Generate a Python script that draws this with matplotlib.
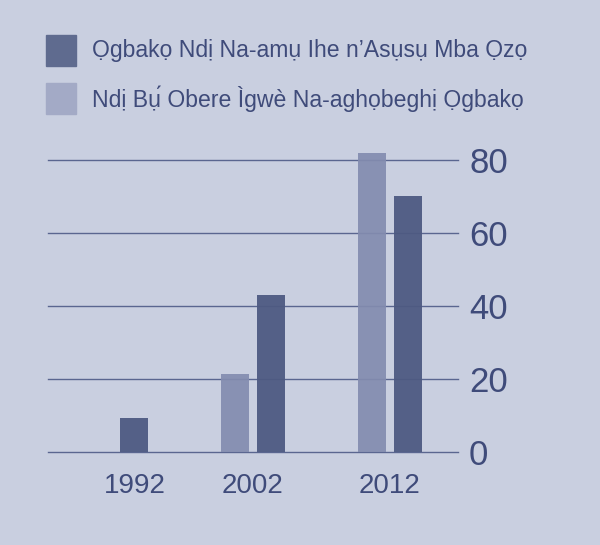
import matplotlib.pyplot as plt
import numpy as np

# data
years = ["1992", "2002", "2012"]
learners_foreign = [9.3, 43.0, 70.1]     # dark series
minority_orgs = [0, 21.4, 82.0]           # light series
series_names = [
    "Ọgbakọ Ndị Na-amụ Ihe n’Asụsụ Mba Ọzọ",
    "Ndị Bụ́ Obere Ìgwè Na-aghọbeghị Ọgbakọ",
]
yticks = [0, 20, 40, 60, 80]

bg = "#c9cfe0"
dark = "#4e5a82"
light = "#838caf"
txt = "#3f4b7a"

plt.rcParams["font.family"] = ["Liberation Sans", "DejaVu Sans"]

fig = plt.figure(figsize=(6, 5.45), dpi=100, facecolor=bg)
ax = fig.add_axes([0.08, 0.1706, 0.6833, 0.5694], facecolor=bg)

x = np.arange(len(years))
w = 0.206
off = 0.132

ax.bar(x - off, minority_orgs, w, color=light, alpha=0.92, zorder=3)
ax.bar(x + off, learners_foreign, w, color=dark, alpha=0.95, zorder=3)

# label under the bars that actually have data
tick_pos = []
for i in range(len(years)):
    pos = []
    if minority_orgs[i] > 0:
        pos.append(x[i] - off)
    if learners_foreign[i] > 0:
        pos.append(x[i] + off)
    tick_pos.append(np.mean(pos))
ax.set_xticks(tick_pos)
ax.set_xticklabels(years, fontsize=20, color=txt)

ax.set_xlim(-0.5, 2.5)
ax.set_ylim(0, 85)
ax.set_yticks(yticks)
ax.yaxis.tick_right()
ax.set_yticklabels([str(t) for t in yticks], fontsize=25, color=txt)
ax.tick_params(length=0, pad=8)
ax.tick_params(axis="x", pad=15)

for t in yticks:
    ax.axhline(t, color="#5a6690", lw=1, zorder=1, clip_on=False)

for s in ax.spines.values():
    s.set_visible(False)

# legend as boxes + text in figure coords
leg_colors = ["#5f6b8f", "#a3aac6"]
for i, (name, c) in enumerate(zip(series_names, leg_colors)):
    y0 = 545 - 66 - i * 48
    fig.patches.append(plt.Rectangle((46 / 600, y0 / 545), 30 / 600, 31 / 545,
                                     transform=fig.transFigure, color=c))
    fig.text(92 / 600, (y0 + 15) / 545, name, fontsize=16.6, color=txt, va="center")

fig.savefig("out.png", dpi=100, facecolor=bg)
